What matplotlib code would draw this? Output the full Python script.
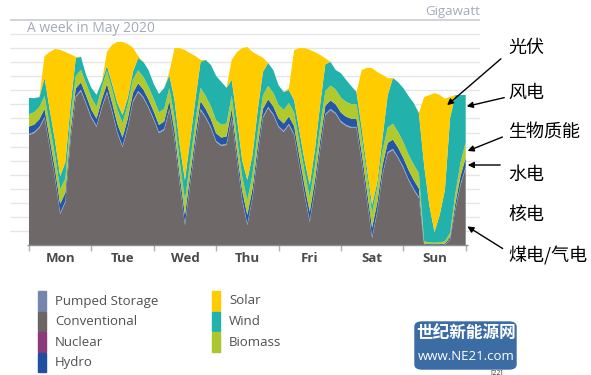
import numpy as np
import matplotlib.pyplot as plt
from matplotlib.patches import Rectangle, FancyBboxPatch

plt.rcParams['font.family'] = ['Open Sans', 'Noto Sans CJK SC', 'DejaVu Sans']

# one value every 2 hours, Mon 00:00 .. Sun 24:00 (GW)
hours = np.arange(0, 169, 2)
days = ['Mon', 'Tue', 'Wed', 'Thu', 'Fri', 'Sat', 'Sun']

conventional = [
    39.1, 39.8, 41.6, 45.2, 34.5, 23.8, 11.0, 15.2, 37.3, 52.6, 54.8, 50.1,
    45.2, 42.0, 48.7, 54.1, 47.3, 39.8, 34.8, 41.6, 50.9, 54.4, 52.3, 48.7,
    44.5, 39.8, 40.9, 48.0, 37.3, 21.3, 7.1, 21.3, 35.6, 48.0, 45.2, 41.6,
    36.6, 35.2, 35.6, 45.2, 30.2, 16.0, 7.1, 16.7, 32.0, 45.2, 48.7, 46.2,
    41.9, 40.2, 42.7, 39.1, 28.4, 17.8, 8.2, 19.6, 33.8, 46.2, 48.0, 46.6,
    43.7, 42.3, 41.6, 41.6, 29.5, 16.0, 2.5, 11.7, 24.9, 32.7, 33.8, 30.9,
    27.4, 23.1, 19.6, 16.7, 0.0, 0.0, 0.0, 0.0, 0.0, 1.8, 12.4, 21.3, 27.4]
pumped = [
    0.4, 0.4, 0.4, 0.4, 0.4, 0.4, 0.4, 0.4, 0.4, 0.4, 0.4, 0.4,
    0.4, 0.4, 0.4, 0.4, 0.4, 0.4, 0.4, 0.4, 0.4, 0.4, 0.4, 0.4,
    0.4, 0.4, 0.4, 0.4, 0.4, 0.4, 0.4, 0.4, 0.4, 0.4, 0.4, 0.4,
    0.4, 0.4, 0.4, 0.4, 0.4, 0.4, 0.4, 0.4, 0.4, 0.4, 0.4, 0.4,
    0.4, 0.4, 0.4, 0.4, 0.4, 0.4, 0.4, 0.4, 0.4, 0.4, 0.4, 0.4,
    0.4, 0.4, 0.4, 0.4, 0.4, 0.4, 0.4, 0.4, 0.4, 0.4, 0.4, 0.4,
    0.4, 0.4, 0.4, 0.4, 0.1, 0.0, 0.0, 0.0, 0.1, 0.2, 0.3, 0.4, 0.4]
hydro = [
    2.6, 2.6, 2.7, 2.8, 2.8, 2.9, 3.2, 3.0, 2.8, 2.7, 2.6, 2.6,
    2.5, 2.5, 2.6, 2.8, 2.8, 2.9, 3.0, 2.9, 2.8, 2.7, 2.6, 2.6,
    2.6, 2.5, 2.6, 2.8, 2.9, 3.0, 3.2, 3.0, 2.9, 2.8, 2.7, 2.7,
    2.7, 2.6, 2.6, 2.8, 2.9, 3.0, 3.2, 3.0, 2.9, 2.8, 2.7, 2.7,
    2.7, 2.6, 2.6, 2.8, 2.9, 3.0, 3.2, 3.0, 2.9, 2.9, 3.0, 3.0,
    3.0, 2.9, 2.9, 2.9, 3.0, 3.1, 3.2, 3.1, 3.0, 3.2, 3.3, 3.3,
    3.2, 3.2, 3.1, 3.0, 0.4, 0.3, 0.3, 0.3, 0.4, 0.8, 2.0, 2.8, 3.2]
biomass = [
    4.4, 4.4, 4.4, 4.6, 4.8, 5.0, 5.2, 5.0, 4.8, 4.5, 4.4, 4.4,
    4.3, 4.3, 4.4, 4.6, 4.8, 5.0, 5.2, 5.0, 4.8, 4.6, 4.5, 4.5,
    4.5, 4.5, 4.5, 4.6, 4.8, 5.0, 5.2, 5.0, 4.8, 4.7, 4.6, 4.6,
    4.6, 4.6, 4.6, 4.7, 4.9, 5.0, 5.2, 5.0, 4.9, 4.8, 4.8, 4.8,
    4.8, 4.8, 4.8, 4.8, 4.9, 5.0, 5.2, 5.1, 5.0, 5.2, 5.3, 5.3,
    5.3, 5.3, 5.2, 5.2, 5.2, 5.3, 5.4, 5.3, 5.3, 5.5, 5.6, 5.6,
    5.6, 5.5, 5.5, 5.4, 0.8, 0.6, 0.5, 0.6, 0.8, 1.5, 3.5, 4.8, 5.5]
wind = [
    5.8, 5.0, 3.5, 6.4, 5.5, 5.2, 4.7, 5.8, 4.4, 6.3, 4.7, 2.9,
    3.5, 4.2, 1.8, 1.8, 2.0, 2.4, 2.8, 2.4, 2.7, 4.4, 5.3, 6.0,
    5.3, 6.5, 7.4, 4.6, 6.1, 5.8, 7.2, 7.6, 7.9, 9.2, 12.9, 14.7,
    15.8, 15.2, 12.7, 5.6, 6.7, 5.8, 7.2, 6.9, 7.8, 8.4, 8.1, 8.1,
    7.0, 6.4, 4.6, 4.4, 4.2, 4.0, 4.4, 5.7, 7.7, 9.6, 8.4, 6.9,
    8.7, 7.8, 6.4, 4.3, 3.5, 2.6, 2.7, 1.9, 4.5, 11.5, 16.3, 17.7,
    19.2, 20.8, 21.9, 21.4, 27.1, 13.3, 3.8, 9.8, 18.3, 40.9, 35.1, 24.0, 16.9]
solar = [
    0.0, 0.0, 0.0, 7.8, 20.6, 32.4, 44.9, 39.2, 18.1, 0.4, 0.0, 0.0,
    0.0, 0.0, 0.0, 5.0, 13.9, 21.7, 26.0, 19.2, 8.5, 0.7, 0.0, 0.0,
    0.0, 0.0, 0.0, 1.1, 18.5, 34.5, 46.2, 30.9, 15.6, 0.7, 0.0, 0.0,
    0.0, 0.0, 0.0, 7.1, 23.5, 39.8, 47.3, 36.6, 19.6, 5.0, 0.0, 0.0,
    0.0, 0.0, 0.7, 17.8, 29.2, 39.8, 48.0, 34.8, 17.8, 2.1, 0.0, 0.0,
    0.0, 0.0, 0.0, 0.0, 20.6, 35.6, 48.7, 39.1, 22.4, 6.0, 0.0, 0.0,
    0.0, 0.0, 0.0, 0.0, 24.2, 39.1, 49.4, 42.7, 32.4, 7.5, 0.0, 0.0, 0.0]

legend_names = ['Pumped Storage', 'Conventional', 'Nuclear', 'Hydro',
                'Solar', 'Wind', 'Biomass']
legend_colors = ['#7586ad', '#6b6564', '#8b3a7a', '#1f4f9e',
                 '#ffcc00', '#20b3ad', '#abc62e']

cn_labels = ['光伏', '风电', '生物质能', '水电', '核电', '煤电/气电']

fig = plt.figure(figsize=(5.91, 3.75), dpi=100)
ax = fig.add_axes([10/591, 130/375, 470/591, 225/375])

ax.stackplot(hours, conventional, pumped, hydro, biomass, wind, solar,
             colors=['#6e6968', '#8a9cc2', '#2456a5', '#b2c92b', '#22b2ab', '#ffcc00'],
             linewidth=0)

ax.set_xlim(-7.3, 173.5)
ax.set_ylim(0, 80)
for s in ax.spines.values():
    s.set_visible(False)

# grid lines behind the areas
ax.hlines(np.arange(5, 80, 5), -7.3, 173.5, color='#e6e6e6', lw=1, zorder=0)
ax.hlines(80, -7.3, 173.5, color='#c9ccd2', lw=1.2, zorder=0, clip_on=False)
ax.hlines(0, -0.8, 168.8, color='#8c8c8c', lw=1, zorder=3, clip_on=False)

ax.set_yticks([])
ax.set_xticks(np.arange(0, 169, 24))
ax.set_xticklabels([])
ax.tick_params(axis='x', which='major', length=4, color='#b0b0b0', width=1)
ax.set_xticks(np.arange(12, 168, 24), minor=True)
ax.set_xticklabels(days, minor=True, fontsize=9.5, fontweight='bold', color='#4a4a4a')
ax.tick_params(axis='x', which='minor', length=0, pad=5)

fig.text(27/591, 1 - 28/375, 'A week in May 2020', fontsize=10, color='#a4aab8',
         ha='left', va='center')
fig.text(480/591, 1 - 12/375, 'Gigawatt', fontsize=9.5, color='#a4aab8',
         ha='right', va='center')

# legend, two columns of tall swatches
for i, (name, col) in enumerate(zip(legend_names, legend_colors)):
    c, r = (0, i) if i < 4 else (1, i - 4)
    x0 = 38 if c == 0 else 212
    y0 = 291 + r * 20.5
    fig.patches.append(Rectangle((x0/591, 1 - (y0 + 19.5)/375), 8/591, 19.5/375,
                                 transform=fig.transFigure, color=col))
    fig.text((x0 + 17)/591, 1 - (y0 + 10)/375, name, fontsize=9.5, color='#505050',
             ha='left', va='center')

# chinese labels with arrows
label_y = [48, 93, 133, 175, 215, 256]
for lab, y in zip(cn_labels, label_y):
    fig.text(508/591, 1 - y/375, lab, fontsize=13, color='black', ha='left', va='center',
             family=['Noto Sans CJK SC', 'DejaVu Sans'])
arrows = [((503, 57), (445, 107)), ((507, 97), (464, 107)), ((505, 136), (465, 152)),
          ((503, 165), (465, 165)), ((505, 250), (465, 225))]
for (x1, y1), (x2, y2) in arrows:
    ax.annotate('', xy=(x2, 375 - y2), xytext=(x1, 375 - y1), xycoords='figure pixels',
                textcoords='figure pixels',
                arrowprops=dict(arrowstyle='-|>', color='black', lw=1, mutation_scale=9))

# watermark box
fig.patches.append(FancyBboxPatch((415/591, 1 - 369/375), 101/591, 47/375,
                                  boxstyle='round,pad=0,rounding_size=0.012',
                                  transform=fig.transFigure, color='#3b6ca4'))
fig.text(466/591, 1 - 333/375, '世纪新能源网', fontsize=12, color='white', fontweight='bold',
         ha='center', va='center', family=['Noto Sans CJK SC', 'DejaVu Sans'])
fig.text(466/591, 1 - 357/375, 'www.NE21.com', fontsize=9.5, color='white',
         ha='center', va='center')
fig.text(497/591, 1 - 373/375, '[22]', fontsize=5, color='#333333', ha='center', va='center')

fig.savefig('out.png', dpi=100)
